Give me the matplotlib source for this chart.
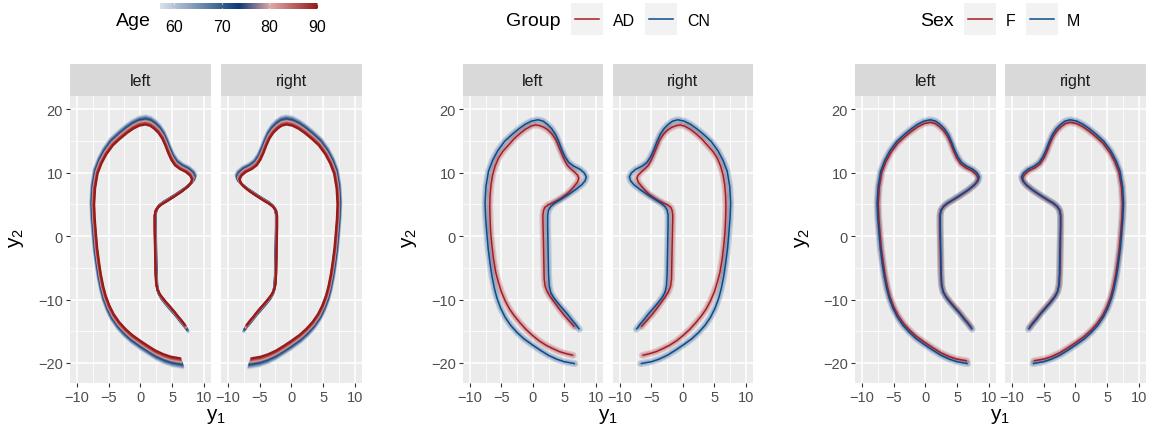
import numpy as np
import matplotlib
matplotlib.use("Agg")
import matplotlib.pyplot as plt
from matplotlib.colors import LinearSegmentedColormap
from matplotlib.patches import Rectangle
from matplotlib.lines import Line2D

plt.rcParams['font.family'] = ['Liberation Sans', 'DejaVu Sans']
plt.rcParams['mathtext.fontset'] = 'custom'
plt.rcParams['mathtext.rm'] = 'Liberation Sans'
plt.rcParams['mathtext.it'] = 'Liberation Sans:italic'

W, H = 1153, 435

# mean outline of the left structure (control / male reference shape)
cn_left_y1 = [6.7, 5.0, 3.8, 2.5, 1.2, 0.0, -1.4, -2.5, -3.5, -4.4, -5.1, -5.7, -6.1,
              -6.5, -6.8, -7.1, -7.3, -7.5, -7.6, -7.45, -7.05, -6.4, -5.6, -4.5, -3.3,
              -2.2, -1.2, -0.2, 0.8, 1.6, 2.3, 3.0, 3.6, 4.1, 4.6, 5.1, 5.7, 6.5, 7.5,
              8.2, 8.5, 8.3, 7.8, 6.8, 5.6, 4.5, 3.5, 2.9, 2.5, 2.35, 2.35, 2.4, 2.45,
              2.5, 2.6, 2.85, 3.3, 4.1, 4.8, 5.5, 6.2, 6.8, 7.4]
cn_left_y2 = [-20.1, -19.8, -19.4, -18.8, -18.0, -17.2, -16.2, -15.2, -14.1, -12.8, -11.4,
              -9.8, -8.3, -6.3, -4.3, -2.0, 0.3, 2.8, 5.2, 7.8, 10.2, 11.9, 13.4, 14.9,
              16.0, 16.9, 17.6, 18.1, 18.3, 18.1, 17.6, 16.9, 16.0, 14.9, 13.6, 12.5,
              11.6, 11.0, 10.5, 9.9, 9.3, 8.7, 8.1, 7.3, 6.5, 5.8, 5.2, 4.7, 4.1, 3.3,
              1.5, -1.0, -3.6, -6.0, -7.8, -8.9, -9.7, -10.7, -11.5, -12.3, -13.2,
              -13.9, -14.7]

# mean outline of the left structure for the AD group
ad_left_y1 = [6.42, 5.2, 4.2, 3.1, 2.1, 1.0, 0.0, -1.1, -2.1, -3.0, -3.7, -4.4, -5.0,
              -5.5, -5.9, -6.25, -6.5, -6.7, -6.8, -6.85, -6.8, -6.65, -6.4, -6.0, -5.5,
              -4.8, -3.9, -3.0, -2.1, -1.2, -0.3, 0.4, 1.05, 1.8, 2.4, 3.1, 3.7, 4.2,
              4.7, 5.1, 5.5, 6.0, 6.6, 7.1, 7.3, 7.1, 6.7, 6.1, 5.5, 4.7, 3.9, 3.1, 2.4,
              1.9, 1.7, 1.6, 1.6, 1.65, 1.7, 1.75, 1.8, 1.95, 2.3, 2.8, 3.4, 4.2, 5.0,
              5.8, 6.6]
ad_left_y2 = [-18.8, -18.5, -18.2, -17.7, -17.2, -16.5, -15.7, -14.7, -13.6, -12.5, -11.5,
              -10.2, -8.8, -7.2, -5.7, -3.6, -1.5, 0.6, 2.7, 4.6, 6.4, 8.1, 9.6, 11.0,
              12.2, 13.3, 14.3, 15.3, 16.1, 16.8, 17.3, 17.5, 17.4, 17.1, 16.7, 16.0,
              15.1, 13.9, 12.7, 11.8, 11.1, 10.6, 10.1, 9.6, 9.1, 8.5, 8.0, 7.3, 6.7,
              6.1, 5.6, 5.2, 4.9, 4.5, 4.0, 3.3, 2.7, 0.6, -1.5, -4.1, -6.7, -7.9, -8.8,
              -9.6, -10.4, -11.5, -12.5, -13.4, -14.3]

# predicted size of the outline by age (relative to the reference shape)
age_levels = [57, 60, 63, 66, 69, 72, 75, 78, 81, 84, 87, 90]
age_scale = [1.040, 1.033, 1.026, 1.019, 1.012, 1.005, 0.998, 0.991, 0.984, 0.977,
             0.969, 0.960]

sex_levels = ['F', 'M']
sex_scale = [0.978, 1.0]

group_levels = ['AD', 'CN']
sides = ['left', 'right']

age_range = (57, 90.2)
age_ticks = [60, 70, 80, 90]
red = '#A51C24'
blue = '#0B4A8B'

age_cmap = LinearSegmentedColormap.from_list(
    'age', [(0.0, '#dae2eb'), (0.5, '#0b3a76'), (0.7, '#dcaaa9'), (1.0, '#971919')])

center = (0.0, 0.0)


def outline(xs, ys, side, scale=1.0):
    xs = np.asarray(xs, float)
    ys = np.asarray(ys, float)
    if side == 'right':
        xs = -xs
    cx = -center[0] if side == 'right' else center[0]
    return cx + scale * (xs - cx), center[1] + scale * (ys - center[1])


def px_axes(fig, x0, y0, x1, y1):
    return fig.add_axes([x0 / W, 1 - y1 / H, (x1 - x0) / W, (y1 - y0) / H])


def style_panel(ax, show_y):
    ax.set_facecolor('#EBEBEB')
    ax.set_xlim(-11.1, 11.15)
    ax.set_ylim(-23.15, 22.05)
    ax.set_xticks([-10, -5, 0, 5, 10])
    ax.set_xticks([-7.5, -2.5, 2.5, 7.5], minor=True)
    ax.set_yticks([-20, -10, 0, 10, 20])
    ax.set_yticks([-15, -5, 5, 15], minor=True)
    ax.grid(which='major', color='white', lw=1.1)
    ax.grid(which='minor', color='white', lw=0.55)
    ax.set_axisbelow(True)
    for s in ax.spines.values():
        s.set_visible(False)
    ax.tick_params(which='major', length=3.2, width=0.8, color='#333333',
                   labelsize=10.5, labelcolor='#4D4D4D', pad=2)
    ax.tick_params(which='minor', length=0)
    if not show_y:
        ax.tick_params(axis='y', which='both', left=False, labelleft=False)


def add_strip(fig, x0, x1, label):
    sax = px_axes(fig, x0, 65, x1, 97)
    sax.set_facecolor('#D9D9D9')
    sax.set_xticks([])
    sax.set_yticks([])
    for s in sax.spines.values():
        s.set_visible(False)
    sax.text(0.5, 0.47, label, ha='center', va='center', fontsize=11.5,
             color='#1A1A1A', transform=sax.transAxes)


fig = plt.figure(figsize=(W / 100, H / 100), dpi=100)

facets = [
    [(70, 211), (221, 362)],
    [(463, 603), (613, 753)],
    [(855, 996), (1005, 1146)],
]
panel_top, panel_bottom = 97, 384

axes = []
for p, boxes in enumerate(facets):
    row = []
    for k, (x0, x1) in enumerate(boxes):
        ax = px_axes(fig, x0, panel_top, x1, panel_bottom)
        style_panel(ax, k == 0)
        add_strip(fig, x0, x1, sides[k])
        row.append(ax)
    axes.append(row)
    left = boxes[0][0]
    right = boxes[1][1]
    fig.text((left + right) / 2 / W, 1 - 417 / H, r'$\mathrm{y}_1$', ha='center',
             va='center', fontsize=15, color='black')
    fig.text((left - 53) / W, 1 - 238 / H, r'$\mathrm{y}_2$', ha='center',
             va='center', fontsize=15, rotation=90, color='black')

# panel 1: outline by age
for k, side in enumerate(sides):
    ax = axes[0][k]
    for age, sc in zip(age_levels, age_scale):
        colour = age_cmap((age - age_range[0]) / (age_range[1] - age_range[0]))
        x, y = outline(cn_left_y1, cn_left_y2, side, sc)
        ax.plot(x, y, color=colour, lw=1.7, solid_capstyle='butt', solid_joinstyle='round')

# panel 2: outline by group
for k, side in enumerate(sides):
    ax = axes[1][k]
    shapes = {'AD': outline(ad_left_y1, ad_left_y2, side),
              'CN': outline(cn_left_y1, cn_left_y2, side)}
    cols = {'AD': red, 'CN': blue}
    for g in group_levels:
        x, y = shapes[g]
        ax.plot(x, y, color=cols[g], lw=5.0, alpha=0.18, solid_capstyle='round')
        ax.plot(x, y, color=cols[g], lw=3.2, alpha=0.18, solid_capstyle='round')
    for g in group_levels:
        x, y = shapes[g]
        ax.plot(x, y, color=cols[g], lw=1.1, solid_capstyle='butt')

# panel 3: outline by sex
for k, side in enumerate(sides):
    ax = axes[2][k]
    cols = {'F': red, 'M': blue}
    shapes = {s: outline(cn_left_y1, cn_left_y2, side, sc) for s, sc in zip(sex_levels, sex_scale)}
    for s in sex_levels:
        x, y = shapes[s]
        ax.plot(x, y, color=cols[s], lw=5.0, alpha=0.18, solid_capstyle='round')
        ax.plot(x, y, color=cols[s], lw=3.2, alpha=0.18, solid_capstyle='round')
    for s in sex_levels:
        x, y = shapes[s]
        ax.plot(x, y, color=cols[s], lw=1.1, solid_capstyle='butt')

# age colourbar
cax = px_axes(fig, 160, 4, 318, 10)
grad = np.linspace(age_range[0], age_range[1], 256).reshape(1, -1)
cax.imshow(grad, extent=[age_range[0], age_range[1], 0, 1], aspect='auto',
           cmap=age_cmap, vmin=age_range[0], vmax=age_range[1])
cax.vlines(age_ticks, 0, 0.22, color='white', lw=0.8)
cax.vlines(age_ticks, 0.78, 1, color='white', lw=0.8)
cax.set_xlim(*age_range)
cax.set_ylim(0, 1)
cax.axis('off')
for v in age_ticks:
    xp = 160 + (v - age_range[0]) / (age_range[1] - age_range[0]) * 158
    fig.text(xp / W, 1 - 27 / H, str(v), ha='center', va='center', fontsize=11.5)
fig.text(133 / W, 1 - 22 / H, 'Age', ha='center', va='center', fontsize=14)


def legend_key(x0, colour):
    fig.add_artist(Rectangle((x0 / W, 1 - 36 / H), 32 / W, 32 / H,
                             transform=fig.transFigure, facecolor='#F2F2F2',
                             edgecolor='none'))
    fig.add_artist(Line2D([(x0 + 4) / W, (x0 + 28) / W], [1 - 20 / H, 1 - 20 / H],
                          transform=fig.transFigure, color=colour, lw=1.1))


fig.text(533 / W, 1 - 21 / H, 'Group', ha='center', va='center', fontsize=14)
legend_key(571, red)
fig.text(613 / W, 1 - 21 / H, group_levels[0], ha='left', va='center', fontsize=11.5)
legend_key(645, blue)
fig.text(687 / W, 1 - 21 / H, group_levels[1], ha='left', va='center', fontsize=11.5)

fig.text(937 / W, 1 - 21 / H, 'Sex', ha='center', va='center', fontsize=14)
legend_key(964, red)
fig.text(1006 / W, 1 - 21 / H, sex_levels[0], ha='left', va='center', fontsize=11.5)
legend_key(1026, blue)
fig.text(1067 / W, 1 - 21 / H, sex_levels[1], ha='left', va='center', fontsize=11.5)

fig.savefig('out.png', dpi=100)
